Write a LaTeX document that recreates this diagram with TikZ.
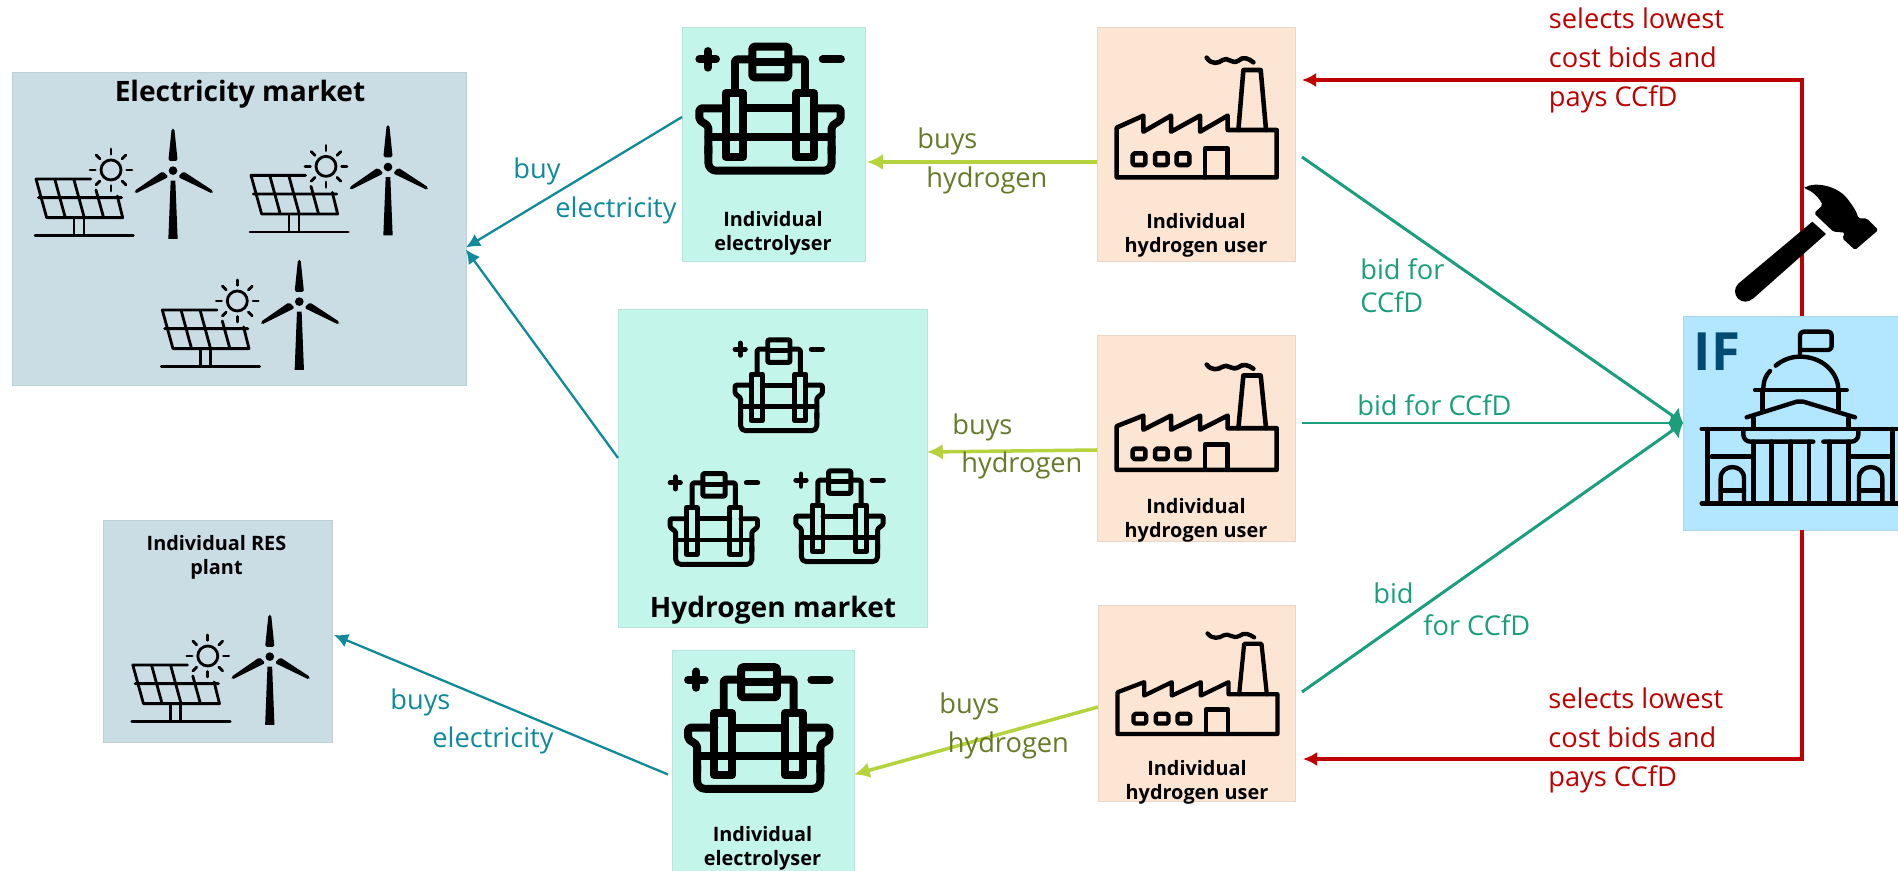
\documentclass[tikz,border=0pt]{standalone}
\usepackage{fontspec}
\setmainfont{Open Sans}
\usetikzlibrary{arrows.meta,calc}
\definecolor{tealline}{HTML}{0F8A9D}
\definecolor{limeline}{HTML}{B5D33D}
\definecolor{olivetext}{HTML}{667A2A}
\definecolor{greenline}{HTML}{1A9E7C}
\definecolor{redline}{HTML}{BE0000}
\definecolor{iftext}{HTML}{004B73}
\definecolor{marketblue}{HTML}{CADDE5}
\definecolor{elygreen}{HTML}{C3F5EB}
\definecolor{userpeach}{HTML}{FDE5D3}
\definecolor{ifblue}{HTML}{B3E7FF}
\tikzset{
  box/.style={draw=#1!85!gray,fill=#1,line width=.4pt,inner sep=0pt,outer sep=0pt},
  edgetext/.style={anchor=base west,inner sep=0pt,font=\fontsize{15.5pt}{17pt}\selectfont},
  boxtext/.style={inner sep=0pt,font=\fontsize{11.3pt}{13.6pt}\selectfont\bfseries,align=center},
  markettext/.style={inner sep=0pt,font=\fontsize{16pt}{16pt}\selectfont\bfseries},
  tealarrow/.style={-{Latex[length=8pt,width=8pt]},tealline,line width=1.3pt},
  limearrow/.style={-{Latex[length=9pt,width=9pt]},limeline,line width=2pt},
  greenarrow/.style={-{Latex[length=7pt,width=12pt]},greenline,line width=1.7pt},
  redarrow/.style={-{Latex[length=8pt,width=8pt]},redline,line width=1.8pt},
  icon/.style={line cap=round,line join=round},
  pics/electrolyser/.style={code={
    \begin{scope}[shift={(-330,-266)},icon]
    \draw (118,118)--(168,118) (143,93)--(143,143) (488,118)--(543,118);
    \draw[rounded corners=.2*\pgflinewidth] (277,80) rectangle (385,172);
    \draw (277,125)--(385,125);
    \draw[rounded corners=.3*\pgflinewidth] (277,118)--(225,118)--(225,215) (385,118)--(435,118)--(435,215);
    \draw (197,220) rectangle (250,410) (408,220) rectangle (462,410);
    \draw[rounded corners=.25*\pgflinewidth] (197,265)--(118,265)--(118,300)--(145,318)--(145,400);
    \draw[rounded corners=.25*\pgflinewidth] (462,265)--(542,265)--(542,300)--(515,318)--(515,400);
    \draw[rounded corners=\pgflinewidth] (145,380)--(145,452)--(515,452)--(515,380);
    \draw (250,265)--(408,265) (145,352)--(515,352);
    \end{scope}
  }},
  pics/solarwind/.style={code={
    \begin{scope}[shift={(-372,-400)},icon,line width=1.6pt]
    \draw (272,387)--(108,387)--(140,503)--(368,503)--(352,438);
    \draw (115,443)--(365,443) (165,390)--(195,500) (222,390)--(252,500) (288,420)--(310,500);
    \draw (222,505)--(222,555) (252,505)--(252,555) (105,557)--(400,557);
    \draw (333,360) circle [radius=30];
    \foreach \a in {0,45,...,315}
      \draw ($(333,360)+(\a:47)$)--($(333,360)+(\a:63)$);
    \fill[rounded corners=1pt] (515,236)--(523,236)--(533,333)--(505,333)--cycle;
    \fill (512,392)--(526,392)--(533,567)--(505,567)--cycle;
    \fill (519,362) circle [radius=13];
    \fill[rounded corners=1pt] (403,423)--(488,364)--(506,381)--(406,431)--cycle;
    \fill[rounded corners=1pt] (640,423)--(550,364)--(534,381)--(637,431)--cycle;
    \end{scope}
  }},
  pics/factory/.style={code={
    \begin{scope}[shift={(-320,-290)},icon]
    \draw (80,323)--(160,287)--(160,335)--(243,287)--(243,335)--(330,287)--(330,335)--(413,287)--(413,330)--(560,330)--(560,472)--(80,472)--cycle;
    \draw (445,330)--(460,150)--(512,150)--(528,330);
    \draw (350,113) .. controls (365,135) and (385,130) .. (398,120) .. controls (412,108) and (425,135) .. (445,122) .. controls (460,108) and (475,115) .. (490,127);
    \foreach \x in {128,195,260}
      \draw[rounded corners=1pt] (\x,400) rectangle ++(38,35);
    \draw (345,472)--(345,385)--(412,385)--(412,472);
    \end{scope}
  }},
  pics/capitol/.style={code={
    \begin{scope}[icon,line width=2.5pt]
    \draw[rounded corners=2pt] (600,555)--(600,485)--(695,485)--(695,540)--(605,540);
    \draw (490,660) .. controls (490,632) and (497,617) .. (510,603);
    \draw (527,587) .. controls (550,568) and (575,560) .. (600,560) .. controls (670,560) and (715,610) .. (715,660);
    \draw (465,660)--(740,660) (487,660)--(487,720) (715,660)--(715,720);
    \draw (440,742)--(590,695)--(610,695)--(765,742);
    \draw (460,745)--(460,775) (745,745)--(745,775) (305,777)--(900,777);
    \draw (322,777)--(322,1000) (335,860)--(455,860) (750,860)--(870,860) (878,777)--(878,1000);
    \draw[rounded corners=4pt] (430,777)--(430,815)--(640,815) (670,815)--(775,815)--(775,777);
    \foreach \x in {460,515,572,627,688,745}
      \draw (\x,815)--(\x,1000);
    \draw (305,1000)--(900,1000);
    \foreach \x in {362,777} {
      \draw (\x,1000)--(\x,925) .. controls (\x,880) and ($(\x,880)+(70,0)$) .. ($(\x,925)+(70,0)$)--($(\x,1000)+(70,0)$);
      \draw (\x,962)--($(\x,962)+(70,0)$);
    }
    \end{scope}
  }},
  pics/hammer/.style={code={
    \fill[rounded corners=1pt] (612,55) .. controls (640,35) and (710,45) .. (745,90) .. controls (760,110) and (770,125) .. (775,145)--(800,145)--(835,180)--(765,240)--(727,205)--(735,188)--(700,185)--(642,130)--(668,105) .. controls (655,80) and (635,62) .. (612,55)--cycle;
    \fill (436,364) circle [radius=31];
    \fill (415,341)--(637,155)--(678,192)--(458,387)--cycle;
  }}
}
\begin{document}
\begin{tikzpicture}[x=.02cm,y=-.02cm]
\useasboundingbox (0,0) rectangle (1898,871);
% boxes
\node[box=marketblue,minimum width=9.08cm,minimum height=6.26cm] (elecmarket) at (239,228.5) {};
\node[box=elygreen,minimum width=3.66cm,minimum height=4.68cm] (elyone) at (773.5,144) {};
\node[box=elygreen,minimum width=6.18cm,minimum height=6.36cm] (hmarket) at (772.5,468) {};
\node[box=elygreen,minimum width=3.64cm,minimum height=4.42cm] (elythree) at (763,760.5) {};
\node[box=userpeach,minimum width=3.96cm,minimum height=4.68cm] (userone) at (1196,144) {};
\node[box=userpeach,minimum width=3.96cm,minimum height=4.12cm] (usertwo) at (1196,438) {};
\node[box=userpeach,minimum width=3.94cm,minimum height=3.92cm] (userthree) at (1196.5,703) {};
\node[box=marketblue,minimum width=4.58cm,minimum height=4.44cm] (resplant) at (217.5,631) {};
\node[box=ifblue,minimum width=4.34cm,minimum height=4.28cm] (ifbox) at (1791.5,423) {};
% connectors
\draw[tealarrow] ($(elyone.west)+(0,-27)$) -- ($(elecmarket.east)+(0,19)$);
\draw[tealarrow] ($(hmarket.west)+(0,-10)$) -- ($(elecmarket.east)+(0,21)$);
\draw[tealarrow] ($(elythree.west)+(-4,14)$) -- ($(resplant.east)+(2,4)$);
\draw[limearrow] ($(userone.west)+(0,18)$) -- ($(elyone.east)+(2,18)$);
\draw[limearrow] ($(usertwo.west)+(0,12)$) -- ($(hmarket.east)+(0,-16)$);
\draw[limearrow] ($(userthree.west)+(0,4)$) -- ($(elythree.east)+(0,14)$);
\draw[greenarrow] ($(userone.east)+(7,13)$) -- (ifbox.west);
\draw[greenarrow] ($(usertwo.east)+(7,-15)$) -- (ifbox.west);
\draw[greenarrow] ($(userthree.east)+(7,-11)$) -- (ifbox.west);
\draw[redarrow] ($(ifbox.north)+(10.5,0)$) |- ($(userone.east)+(7,-64)$);
\draw[redarrow] ($(ifbox.south)+(10.5,0)$) |- ($(userthree.east)+(8,56)$);
% icons
\pic at (124,183.3) [scale=1/3] {solarwind};
\pic at (339,179.7) [scale=1/3] {solarwind};
\pic at (250.3,314.3) [scale=1/3] {solarwind};
\pic at (220.8,669.3) [scale=1/3] {solarwind};
\pic at (770,108.7) [scale=1/3,line width=4.5pt] {electrolyser};
\pic at (758.7,728) [xscale=.333,yscale=.327,line width=4.5pt] {electrolyser};
\pic at (778.7,385.3) [xscale=.206,yscale=.244,line width=2.8pt] {electrolyser};
\pic at (713.8,519) [xscale=.206,yscale=.244,line width=2.8pt] {electrolyser};
\pic at (839.5,516.3) [xscale=.206,yscale=.244,line width=2.8pt] {electrolyser};
\pic at (1196.7,116.7) [scale=1/3,line width=2.6pt] {factory};
\pic at (1196.7,416.5) [xscale=1/3,yscale=.293,line width=2.6pt] {factory};
\pic at (1197.5,683) [xscale=1/3,yscale=.28,line width=2.4pt] {factory};
\pic at (1600,170) [scale=1/3] {capitol};
\pic at (1600,170) [scale=1/3] {hammer};
% box labels
\node[markettext] (elecmarkettext) at (240,94) {Electricity market};
\node[markettext] (hmarkettext) at (773,610) {Hydrogen market};
\node[boxtext] (elyonetext) at (773,233) {Individual\\electrolyser};
\node[boxtext] (elythreetext) at (762.5,848) {Individual\\electrolyser};
\node[boxtext] (useronetext) at (1196,235.5) {Individual\\hydrogen user};
\node[boxtext] (usertwotext) at (1196,520.5) {Individual\\hydrogen user};
\node[boxtext] (userthreetext) at (1197,782) {Individual\\hydrogen user};
\node[boxtext] (restext) at (216.5,557) {Individual RES\\plant};
\node[inner sep=0pt,text=iftext,font=\fontsize{30pt}{30pt}\selectfont\bfseries] (iftitle) at (1717,352) {IF};
% connector labels
\node[edgetext,text=tealline] (buyone) at (513,179) {buy};
\node[edgetext,text=tealline] (elecone) at (555,218) {electricity};
\node[edgetext,text=tealline] (buytwo) at (390,709) {buys};
\node[edgetext,text=tealline] (electwo) at (432,747) {electricity};
\node[edgetext,text=olivetext] (buysone) at (917,149) {buys};
\node[edgetext,text=olivetext] (hydone) at (926,188) {hydrogen};
\node[edgetext,text=olivetext] (buystwo) at (952,435) {buys};
\node[edgetext,text=olivetext] (hydtwo) at (961,473) {hydrogen};
\node[edgetext,text=olivetext] (buysthree) at (939,713) {buys};
\node[edgetext,text=olivetext] (hydthree) at (947.5,752) {hydrogen};
\node[edgetext,text=greenline] (bidone) at (1360,280) {bid for};
\node[edgetext,text=greenline] (ccfdone) at (1360,313) {CCfD};
\node[edgetext,text=greenline] (bidtwo) at (1357,416) {bid for CCfD};
\node[edgetext,text=greenline] (bidthree) at (1373,603) {bid};
\node[edgetext,text=greenline] (ccfdthree) at (1423,636) {for CCfD};
\node[edgetext,text=redline] (selectsone) at (1548.6,29) {selects lowest};
\node[edgetext,text=redline] (costone) at (1548.6,68) {cost bids and};
\node[edgetext,text=redline] (paysone) at (1548.6,107) {pays CCfD};
\node[edgetext,text=redline] (selectstwo) at (1548,708) {selects lowest};
\node[edgetext,text=redline] (costtwo) at (1548,747) {cost bids and};
\node[edgetext,text=redline] (paystwo) at (1548,786) {pays CCfD};
\end{tikzpicture}
\end{document}
